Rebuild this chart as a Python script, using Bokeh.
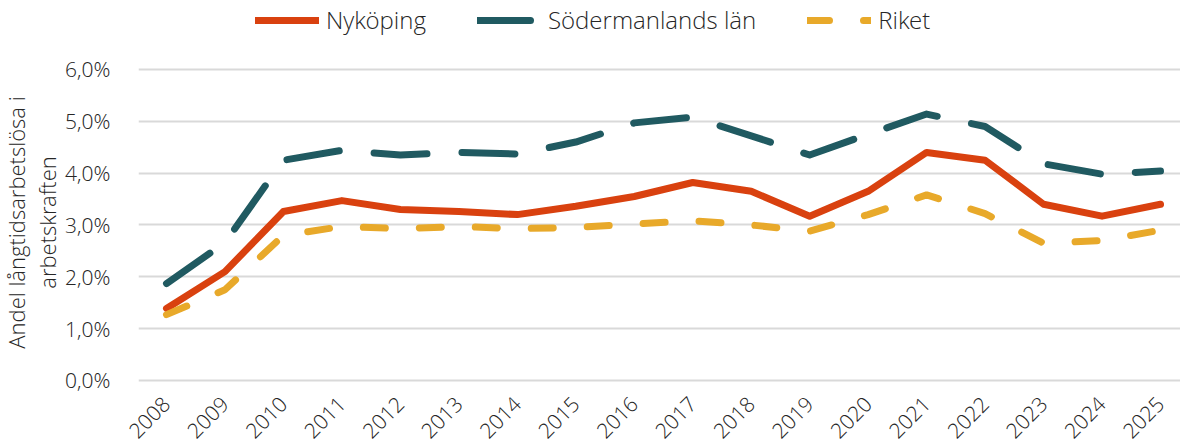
from bokeh.plotting import figure
from bokeh.layouts import row
from bokeh.models import ColumnDataSource, FixedTicker, CustomJSTickFormatter, Legend, LegendItem, Range1d, Label
from bokeh.embed import file_html
from bokeh.resources import INLINE
import math

years = list(range(2008, 2026))
nykoping = [1.39, 2.10, 3.26, 3.47, 3.30, 3.26, 3.20, 3.36, 3.55, 3.82, 3.65, 3.17, 3.65, 4.40, 4.25, 3.40, 3.17, 3.40]
sodermanland = [1.87, 2.66, 4.25, 4.44, 4.35, 4.40, 4.37, 4.60, 4.97, 5.08, 4.72, 4.35, 4.75, 5.14, 4.90, 4.18, 3.98, 4.04]
riket = [1.27, 1.75, 2.80, 2.97, 2.93, 2.97, 2.93, 2.95, 3.02, 3.08, 3.00, 2.88, 3.20, 3.58, 3.22, 2.65, 2.70, 2.90]
series_names = ["Nyköping", "Södermanlands län", "Riket"]
y_ticks = [0, 1, 2, 3, 4, 5, 6]
y_title = "Andel långtidsarbetslösa i\narbetskraften"

RED = "#D9410F"
TEAL = "#205A61"
YELLOW = "#E8A92A"
FONT = "Open Sans Light, Open Sans"
TXT = "#262626"
H = 448
BOTTOM = 66

src = ColumnDataSource(dict(year=years, nyk=nykoping, sod=sodermanland, rik=riket))

# narrow panel holding the y-axis title (frame aligned with the chart frame)
tp = figure(width=62, height=H, output_backend="svg", toolbar_location=None,
            x_range=Range1d(0, 1), y_range=Range1d(0, 1),
            min_border_left=0, min_border_right=0, min_border_top=0, min_border_bottom=0)
tp.axis.visible = False
tp.grid.visible = False
tp.outline_line_color = None
tp.add_layout(Label(x=31, y=H - BOTTOM - 222, x_units="screen", y_units="screen", text=y_title,
                    angle=math.pi / 2, text_align="center", text_baseline="middle",
                    text_font=FONT, text_font_size="22px", text_line_height=1.05, text_color=TXT))

p = figure(width=1118, height=H, output_backend="svg", toolbar_location=None,
           x_range=Range1d(2007.521, 2025.342), y_range=Range1d(-0.039, 7.331),
           min_border_left=76, min_border_right=0, min_border_top=0, min_border_bottom=BOTTOM)
p.outline_line_color = None

r_nyk = p.line("year", "nyk", source=src, line_color=RED, line_width=7, line_cap="round", line_join="round")
r_sod = p.line("year", "sod", source=src, line_color=TEAL, line_width=7, line_cap="round", line_join="round",
               line_dash="53 35")
r_rik = p.line("year", "rik", source=src, line_color=YELLOW, line_width=7, line_cap="round", line_join="round",
               line_dash="22 34")

p.xaxis.ticker = FixedTicker(ticks=years)
p.yaxis.ticker = FixedTicker(ticks=y_ticks)
p.yaxis.formatter = CustomJSTickFormatter(code="return tick.toFixed(1).replace('.', ',') + '%';")
p.xaxis.major_label_orientation = math.pi / 4

for ax in [p.xaxis[0], p.yaxis[0]]:
    ax.axis_line_color = None
    ax.major_tick_line_color = None
    ax.minor_tick_line_color = None
    ax.major_label_text_font = FONT
    ax.major_label_text_color = TXT

p.yaxis.major_label_text_font_size = "21px"
p.xaxis.major_label_text_font_size = "21px"
p.yaxis.major_label_standoff = 22
p.xaxis.major_label_standoff = 12

p.xgrid.grid_line_color = None
p.ygrid.grid_line_color = "#D9D9D9"
p.ygrid.grid_line_width = 2

legend = Legend(items=[LegendItem(label=series_names[0], renderers=[r_nyk]),
                       LegendItem(label=series_names[1], renderers=[r_sod]),
                       LegendItem(label=series_names[2], renderers=[r_rik])],
                orientation="horizontal", location=(117, H - BOTTOM - 36),
                label_text_font=FONT, label_text_font_size="24px", label_text_color=TXT,
                glyph_width=64, glyph_height=20, label_height=20, label_standoff=7, spacing=51,
                padding=0, margin=0, border_line_color=None, background_fill_alpha=0)
p.add_layout(legend, "center")

layout = row(tp, p, spacing=0)
open("out.html", "w").write(file_html(layout, INLINE))
